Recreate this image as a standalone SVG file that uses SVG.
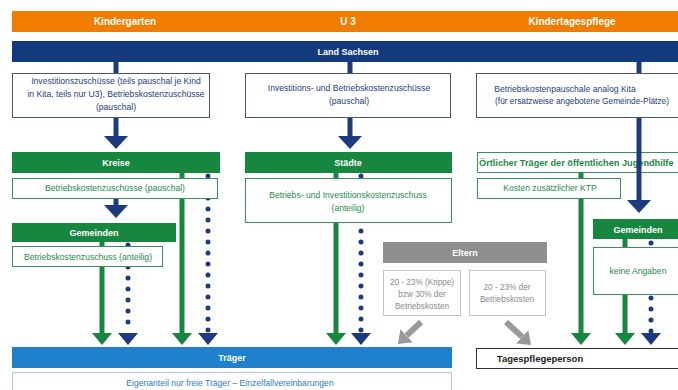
<svg xmlns="http://www.w3.org/2000/svg" width="678" height="390" viewBox="0 0 678 390">
<style>
text{font-family:"Liberation Sans",Arial,sans-serif;text-anchor:middle}
.hd{fill:#fff;font-size:10px;font-weight:bold}
.bar{fill:#fff;font-size:9px;font-weight:bold}
.nt{fill:#22407e;font-size:8.6px}
.gt{fill:#1f8a4a;font-size:8.6px}
.et{fill:#8a8a8a;font-size:8.2px}
.bt{fill:#2b7cc4;font-size:8.6px}
.nbox{fill:#fff;stroke:#4a5570;stroke-width:1}
.gbox{fill:#fff;stroke:#3a8f5c;stroke-width:1}
.ebox{fill:#fff;stroke:#c4c4c4;stroke-width:1}
.gl{stroke:#17873f;stroke-width:5;fill:none;marker-end:url(#ag)}
.nd{stroke:#1b3a80;stroke-width:5;fill:none;stroke-dasharray:0 11;stroke-linecap:round;marker-end:url(#an)}
.ns{stroke:#1b3a80;stroke-width:5;fill:none}
.na{stroke:#1b3a80;stroke-width:5;fill:none;marker-end:url(#anb)}
.ga{stroke:#999;stroke-width:6;fill:none;marker-end:url(#agr)}
</style>
<defs>
<marker id="ag" viewBox="0 0 12 20" markerWidth="12" markerHeight="20" refX="0" refY="10" orient="auto" markerUnits="userSpaceOnUse"><path d="M0,0 L12,10 L0,20 Z" fill="#17873f"/></marker>
<marker id="an" viewBox="0 0 12 20" markerWidth="12" markerHeight="20" refX="0" refY="10" orient="auto" markerUnits="userSpaceOnUse"><path d="M0,0 L12,10 L0,20 Z" fill="#1b3a80"/></marker>
<marker id="anb" viewBox="0 0 13 24" markerWidth="13" markerHeight="24" refX="0" refY="12" orient="auto" markerUnits="userSpaceOnUse"><path d="M0,0 L13,12 L0,24 Z" fill="#1b3a80"/></marker>
<marker id="agr" viewBox="0 0 12 18" markerWidth="12" markerHeight="18" refX="0" refY="9" orient="auto" markerUnits="userSpaceOnUse"><path d="M0,0 L12,9 L0,18 Z" fill="#999"/></marker>
</defs>
<rect width="678" height="390" fill="#fff"/>

<g id="connectors">
<line class="ns" x1="116" y1="62" x2="116" y2="73"/>
<line class="ns" x1="350" y1="62" x2="350" y2="73"/>
<line class="ns" x1="639" y1="62" x2="639" y2="73"/>
<line class="na" x1="116" y1="118" x2="116" y2="136"/>
<line class="na" x1="350" y1="118" x2="350" y2="136"/>
<line class="na" x1="116" y1="198" x2="116" y2="205"/>
<line class="gl" x1="102" y1="242" x2="102" y2="333"/>
<line class="nd" x1="128" y1="245" x2="128" y2="333"/>
<line class="gl" x1="182" y1="173" x2="182" y2="333"/>
<line class="nd" x1="208" y1="176" x2="208" y2="333"/>
<line class="gl" x1="336" y1="173" x2="336" y2="333"/>
<line class="nd" x1="361" y1="176" x2="361" y2="333"/>
<line class="gl" x1="581" y1="173" x2="581" y2="333"/>
<line class="gl" x1="625" y1="239" x2="625" y2="333"/>
<line class="nd" x1="651" y1="243" x2="651" y2="333"/>
<line class="ga" x1="421" y1="322" x2="406.6" y2="335.7"/>
<line class="ga" x1="506" y1="322" x2="522.2" y2="336.9"/>
</g>

<g id="header-kindergarten"><rect x="12" y="11" width="666" height="21" fill="#f07d00"/><text class="hd" x="125" y="25">Kindergarten</text></g>
<g id="header-u3"><text class="hd" x="348" y="25">U 3</text></g>
<g id="header-kindertagespflege"><text class="hd" x="572" y="25">Kindertagespflege</text></g>

<g id="land-sachsen"><rect x="12" y="41" width="666" height="21" fill="#143a7e"/><text class="bar" x="348" y="55">Land Sachsen</text></g>

<g id="box-kiga"><rect class="nbox" x="12.5" y="73.5" width="197" height="44"/>
<text class="nt" x="116" y="84">Investitionszuschüsse (teils pauschal je Kind</text>
<text class="nt" x="116" y="97">in Kita, teils nur U3), Betriebskostenzuschüsse</text>
<text class="nt" x="116" y="110">(pauschal)</text></g>

<g id="box-u3"><rect class="nbox" x="245.5" y="73.5" width="205" height="44"/>
<text class="nt" x="349" y="91">Investitions- und Betriebskostenzuschüsse</text>
<text class="nt" x="349" y="104">(pauschal)</text></g>

<g id="box-ktp"><rect class="nbox" x="476.5" y="73.5" width="205" height="44"/>
<text class="nt" x="565" y="92">Betriebskostenpauschale analog Kita</text>
<text class="nt" x="582" y="104" style="font-size:8.3px">(für ersatzweise angebotene Gemeinde-Plätze)</text></g>

<g id="kreise"><rect x="12" y="152" width="208" height="21" fill="#17873f"/><text class="bar" x="116" y="166">Kreise</text></g>
<g id="kreise-box"><rect class="gbox" x="12.5" y="178.5" width="205" height="20"/><text class="gt" x="115" y="191">Betriebskostenzuschüsse (pauschal)</text></g>

<g id="gemeinden-kiga"><rect x="12" y="223" width="164" height="19" fill="#17873f"/><text class="bar" x="94" y="236">Gemeinden</text></g>
<g id="gemeinden-kiga-box"><rect class="gbox" x="12.5" y="246.5" width="150" height="20"/><text class="gt" x="88" y="259.5">Betriebskostenzuschuss (anteilig)</text></g>

<g id="staedte"><rect x="245" y="152" width="207" height="21" fill="#17873f"/><text class="bar" x="348" y="166">Städte</text></g>
<g id="staedte-box"><rect class="gbox" x="245.5" y="178.5" width="206" height="44"/>
<text class="gt" x="348" y="198">Betriebs- und Investitionskostenzuschuss</text>
<text class="gt" x="348" y="211">(anteilig)</text></g>

<g id="oertlicher-traeger"><rect x="477.5" y="152.5" width="210" height="20" fill="#fff" stroke="#3a8f5c"/><text class="gt" x="479" y="166" style="text-anchor:start;font-weight:bold;font-size:9.2px">Örtlicher Träger der öffentlichen Jugendhilfe</text></g>
<g id="ktp-kosten"><rect class="gbox" x="477.5" y="178.5" width="143" height="20"/><text class="gt" x="550" y="191">Kosten zusätzlicher KTP</text></g>

<g id="arrow-ktp-gemeinden"><line class="na" x1="639" y1="118" x2="639" y2="200"/></g>

<g id="gemeinden-ktp"><rect x="593" y="219" width="90" height="20" fill="#17873f"/><text class="bar" x="638" y="232.5">Gemeinden</text></g>
<g id="gemeinden-ktp-box"><rect class="gbox" x="593.5" y="247.5" width="90" height="47"/><text class="gt" x="638" y="274">keine Angaben</text></g>

<g id="eltern"><rect x="383" y="242" width="164" height="21" fill="#8e8e8e"/><text class="bar" x="465" y="256">Eltern</text></g>
<g id="eltern-box-1"><rect class="ebox" x="383.5" y="270.5" width="77" height="45"/>
<text class="et" x="422" y="285">20 - 23% (Krippe)</text>
<text class="et" x="422" y="297">bzw 30% der</text>
<text class="et" x="422" y="309">Betriebskosten</text></g>
<g id="eltern-box-2"><rect class="ebox" x="469.5" y="270.5" width="76" height="45"/>
<text class="et" x="507" y="290">20 - 23% der</text>
<text class="et" x="507" y="302">Betriebskosten</text></g>

<g id="traeger"><rect x="12" y="347" width="440" height="21" fill="#1f80cc"/><text class="bar" x="232" y="361">Träger</text></g>
<g id="traeger-box"><rect x="12.5" y="372.5" width="439" height="25" fill="#fff" stroke="#a9c9e6"/><text class="bt" x="230" y="386">Eigenanteil nur freie Träger – Einzelfallvereinbarungen</text></g>

<g id="tagespflegeperson"><rect x="476.5" y="348.5" width="205" height="20" fill="#fff" stroke="#333"/><text x="540" y="362" style="font-size:9.5px;font-weight:bold;fill:#222">Tagespflegeperson</text></g>
</svg>
